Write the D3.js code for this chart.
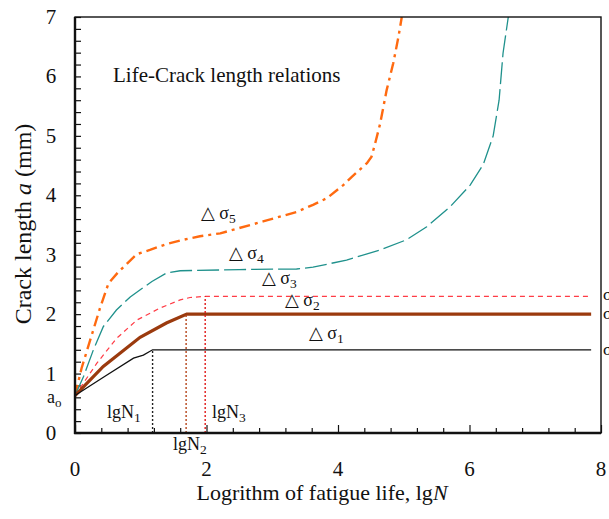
<!DOCTYPE html>
<html>
<head>
<meta charset="utf-8">
<script src="https://cdn.jsdelivr.net/npm/d3@7"></script>
<style>
  body { margin: 0; background: #fff; }
  svg, svg text { font-family: "Times New Roman", "Liberation Serif", Tinos, "DejaVu Serif", serif !important; }
  text { fill: #111; }
</style>
</head>
<body>
<svg id="chart" width="609" height="519" font-family="Liberation Serif"></svg>
<script>
// sigma1 .. sigma5 curves (x = lgN, y = crack length a in mm)
const s1x = [0, 0.45, 0.89, 1.04, 1.18, 7.85];
const s1y = [0.63, 0.95, 1.26, 1.31, 1.40, 1.40];

const s2x = [0, 0.43, 0.99, 1.39, 1.70, 7.85];
const s2y = [0.63, 1.12, 1.61, 1.85, 2.00, 2.00];

const s3x = [0, 0.33, 0.63, 0.94, 1.29, 1.60, 1.75, 1.98, 7.85];
const s3y = [0.63, 1.17, 1.59, 1.90, 2.10, 2.24, 2.28, 2.30, 2.30];

const s4x = [0, 0.13, 0.28, 0.43, 0.63, 0.84, 1.17, 1.39, 1.60, 2.5, 3.37, 3.62, 4.13, 4.64, 5.04, 5.35, 5.70, 6.01, 6.21, 6.36, 6.45, 6.51, 6.59];
const s4y = [0.63, 0.95, 1.40, 1.79, 2.07, 2.29, 2.55, 2.69, 2.73, 2.75, 2.76, 2.79, 2.91, 3.08, 3.25, 3.47, 3.80, 4.17, 4.52, 5.00, 5.60, 6.39, 7.00];

const s5x = [0, 0.10, 0.38, 0.51, 0.66, 0.94, 1.14, 1.39, 1.60, 1.90, 2.21, 2.86, 3.37, 3.62, 3.83, 4.08, 4.21, 4.44, 4.51, 4.56, 4.64, 4.74, 4.84, 4.92, 4.97];
const s5y = [0.63, 1.09, 2.10, 2.52, 2.71, 3.01, 3.08, 3.18, 3.24, 3.31, 3.36, 3.56, 3.72, 3.84, 3.95, 4.17, 4.31, 4.54, 4.65, 4.85, 5.20, 5.77, 6.22, 6.67, 7.00];

// critical lives lgN1..lgN3 and their crack lengths
const lgN = [1.18, 1.69, 1.98];
const aN = [1.40, 2.00, 2.30];

const xTicks = [0, 2, 4, 6, 8];
const yTicks = [0, 1, 2, 3, 4, 5, 6, 7];

const svg = d3.select('#chart');
const m = { left: 75, right: 601, top: 17, bottom: 433 };

const x = d3.scaleLinear().domain([0, 8]).range([m.left, m.right]);
const y = d3.scaleLinear().domain([0, 7]).range([m.bottom, m.top]);

svg.append('clipPath').attr('id', 'clip')
  .append('rect')
  .attr('x', m.left).attr('y', m.top)
  .attr('width', m.right - m.left).attr('height', m.bottom - m.top);

// ticks (inside)
const xAxis = d3.axisBottom(x).tickValues(d3.range(0, 8.01, 0.4)).tickSize(-5).tickFormat('');
svg.append('g').attr('transform', `translate(0,${m.bottom})`).call(xAxis)
  .call(g => g.select('.domain').remove())
  .selectAll('line').attr('stroke', '#111').attr('stroke-width', 1.2)
  .attr('y2', d => (Math.abs(d % 2) < 1e-6 || Math.abs(d % 2 - 2) < 1e-6) ? -8 : -5);

const yAxis = d3.axisLeft(y).tickValues(d3.range(0, 7.01, 0.2)).tickSize(-6).tickFormat('');
svg.append('g').attr('transform', `translate(${m.left},0)`).call(yAxis)
  .call(g => g.select('.domain').remove())
  .selectAll('line').attr('stroke', '#111').attr('stroke-width', 1.2);

// tick labels
svg.append('g').selectAll('text').data(xTicks).enter().append('text')
  .attr('x', d => x(d)).attr('y', 476)
  .attr('text-anchor', 'middle').style('font-size', '21px')
  .text(d => d);

svg.append('g').selectAll('text').data(yTicks).enter().append('text')
  .attr('x', 51).attr('y', d => y(d) + 7)
  .attr('text-anchor', 'middle').style('font-size', '21px')
  .text(d => d);

// a_o label
const ao = svg.append('text').attr('x', 47).attr('y', 403).style('font-size', '18px');
ao.append('tspan').text('a');
ao.append('tspan').attr('dy', 4).style('font-size', '13px').text('o');

// curves
const line = d3.line().x(d => x(d[0])).y(d => y(d[1]));
const zip = (a, b) => a.map((v, i) => [v, b[i]]);

const curves = svg.append('g').attr('clip-path', 'url(#clip)');

curves.append('path').datum(zip(s5x, s5y)).attr('d', line)
  .attr('fill', 'none').attr('stroke', '#ff6a10').attr('stroke-width', 2.4)
  .attr('stroke-dasharray', '11,5,3,5');

curves.append('path').datum(zip(s4x, s4y)).attr('d', line)
  .attr('fill', 'none').attr('stroke', '#1f918c').attr('stroke-width', 1.3)
  .attr('stroke-dasharray', '22,5');

curves.append('path').datum(zip(s3x, s3y)).attr('d', line)
  .attr('fill', 'none').attr('stroke', '#ff3c46').attr('stroke-width', 1.2)
  .attr('stroke-dasharray', '5,4');

curves.append('path').datum(zip(s2x, s2y)).attr('d', line)
  .attr('fill', 'none').attr('stroke', '#9b3a0e').attr('stroke-width', 3.2);

curves.append('path').datum(zip(s1x, s1y)).attr('d', line)
  .attr('fill', 'none').attr('stroke', '#111').attr('stroke-width', 1.3);

// dotted drop lines at lgN1..3
const dropCol = ['#222', '#b5441a', '#e01818'];
svg.append('g').selectAll('line').data(lgN).enter().append('line')
  .attr('x1', d => x(d)).attr('x2', d => x(d))
  .attr('y1', y(0)).attr('y2', (d, i) => y(aN[i]))
  .attr('stroke', (d, i) => dropCol[i]).attr('stroke-width', 1.4)
  .attr('stroke-dasharray', '2,2');

// frame
svg.append('rect')
  .attr('x', m.left).attr('y', m.top)
  .attr('width', m.right - m.left).attr('height', m.bottom - m.top)
  .attr('fill', 'none').attr('stroke', '#111').attr('stroke-width', 1.4);
svg.append('line').attr('x1', m.left).attr('x2', m.left).attr('y1', m.top).attr('y2', m.bottom + 1)
  .attr('stroke', '#111').attr('stroke-width', 2.4);
svg.append('line').attr('x1', m.left - 1).attr('x2', m.right).attr('y1', m.bottom).attr('y2', m.bottom)
  .attr('stroke', '#111').attr('stroke-width', 2.4);

// subscripted labels
function subLabel(px, py, main, sub, size) {
  const t = svg.append('text').attr('x', px).attr('y', py).style('font-size', size + 'px');
  t.append('tspan').text(main);
  t.append('tspan').attr('dy', 4).style('font-size', (size * 0.75) + 'px').text(sub);
  return t;
}

subLabel(107, 418, 'lgN', '1', 18);
subLabel(173, 450, 'lgN', '2', 18);
subLabel(212, 418, 'lgN', '3', 18);

// stress level labels
const sigmaLab = [
  { n: '5', px: 201, py: 219 },
  { n: '4', px: 229, py: 259 },
  { n: '3', px: 262, py: 284 },
  { n: '2', px: 285, py: 306 },
  { n: '1', px: 309, py: 339 }
];
sigmaLab.forEach(d => subLabel(d.px, d.py, '\u25B3 \u03C3', d.n, 18));

// sigma labels running off the right edge, as in the original figure
[2.33, 2.0, 1.4].forEach(v => {
  svg.append('text').attr('x', 603).attr('y', y(v) + 5).style('font-size', '17px').text('\u03C3');
});

svg.append('text').attr('x', 113).attr('y', 82).style('font-size', '21px')
  .text('Life-Crack length relations');

// axis titles
const xt = svg.append('text').attr('x', 322).attr('y', 500)
  .attr('text-anchor', 'middle').style('font-size', '22px');
xt.append('tspan').text('Logrithm of fatigue life, lg');
xt.append('tspan').style('font-style', 'italic').text('N');

const yt = svg.append('text').attr('transform', 'translate(31,224) rotate(-90)')
  .attr('text-anchor', 'middle').style('font-size', '24px');
yt.append('tspan').text('Crack length ');
yt.append('tspan').style('font-style', 'italic').text('a');
yt.append('tspan').text(' (mm)');
</script>
</body>
</html>
